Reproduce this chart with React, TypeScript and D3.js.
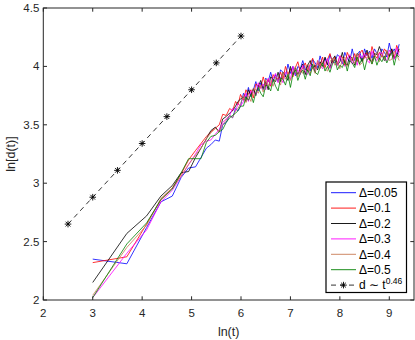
import React, { useEffect, useRef } from 'react';
import * as d3 from 'd3';

// ln(t) sample positions
const lnT = [
  3.0, 3.69, 4.09, 4.38, 4.61, 4.79, 4.94, 5.08, 5.19, 5.3, 5.39, 5.48, 5.56, 5.63, 5.7, 5.77, 5.83, 5.89, 5.94, 5.99,
  6.05, 6.1, 6.15, 6.2, 6.25, 6.3, 6.35, 6.4, 6.45, 6.5, 6.55, 6.6, 6.65, 6.7, 6.75, 6.8,
  6.85, 6.9, 6.95, 7.0, 7.05, 7.1, 7.15, 7.2, 7.25, 7.3, 7.35, 7.4, 7.45, 7.5, 7.55, 7.6,
  7.65, 7.7, 7.75, 7.8, 7.85, 7.9, 7.95, 8.0, 8.05, 8.1, 8.15, 8.2, 8.25, 8.3, 8.35, 8.4,
  8.45, 8.5, 8.55, 8.6, 8.65, 8.7, 8.75, 8.8, 8.85, 8.9, 8.95, 9.0, 9.05, 9.1, 9.15, 9.2,
];

const d005 = [
  2.35, 2.31, 2.62, 2.84, 2.89, 3.05, 3.13, 3.14, 3.22, 3.3, 3.33, 3.37, 3.36, 3.5, 3.52, 3.58, 3.56, 3.64, 3.62, 3.66,
  3.77, 3.73, 3.82, 3.74, 3.8, 3.87, 3.79, 3.86, 3.8, 3.9, 3.87, 3.95, 3.87, 3.93, 3.87, 3.97,
  3.95, 3.91, 4.02, 3.94, 4.0, 3.92, 4.0, 3.98, 4.05, 3.97, 4.01, 3.96, 4.06, 4.03, 3.99, 4.09,
  4.02, 4.07, 4.01, 4.1, 4.04, 4.03, 4.1, 4.08, 4.02, 4.12, 4.07, 4.04, 4.15, 4.05, 4.1, 4.13,
  4.05, 4.15, 4.09, 4.13, 4.07, 4.15, 4.11, 4.06, 4.15, 4.12, 4.08, 4.2, 4.11, 4.15, 4.1, 4.19,
];
const d01 = [
  2.32, 2.37, 2.65, 2.86, 2.96, 3.08, 3.2, 3.28, 3.34, 3.4, 3.44, 3.47, 3.5, 3.59, 3.58, 3.64, 3.62, 3.7, 3.67, 3.76,
  3.71, 3.8, 3.76, 3.8, 3.73, 3.85, 3.83, 3.82, 3.91, 3.83, 3.89, 3.83, 3.93, 3.9, 3.89, 3.95,
  3.89, 4.0, 3.93, 3.98, 3.91, 3.99, 4.04, 3.95, 3.99, 4.03, 3.96, 4.02, 4.07, 3.98, 4.03, 4.0,
  4.08, 3.99, 4.06, 4.11, 4.03, 4.08, 4.02, 4.09, 4.08, 4.01, 4.12, 4.07, 4.05, 4.11, 4.04, 4.11,
  4.14, 4.07, 4.12, 4.05, 4.17, 4.1, 4.07, 4.12, 4.08, 4.15, 4.12, 4.08, 4.15, 4.07, 4.18, 4.12,
];
const d02 = [
  2.15, 2.57, 2.72, 2.89, 2.98, 3.09, 3.1, 3.22, 3.3, 3.38, 3.45, 3.48, 3.44, 3.55, 3.57, 3.6, 3.62, 3.66, 3.7, 3.72,
  3.74, 3.7, 3.8, 3.75, 3.81, 3.75, 3.83, 3.88, 3.81, 3.87, 3.8, 3.91, 3.89, 3.87, 3.95, 3.87,
  3.95, 3.92, 3.88, 4.0, 3.93, 3.99, 3.93, 3.98, 4.02, 3.93, 4.01, 4.05, 3.98, 4.01, 3.97, 4.04,
  4.0, 4.08, 4.02, 3.99, 4.06, 4.09, 4.01, 4.04, 4.12, 4.03, 4.01, 4.09, 4.07, 4.01, 4.11, 4.09,
  4.04, 4.09, 4.14, 4.06, 4.04, 4.11, 4.1, 4.17, 4.11, 4.05, 4.13, 4.09, 4.15, 4.07, 4.09, 4.15,
];
const d03 = [
  2.02, 2.4, 2.6, 2.84, 2.94, 3.06, 3.16, 3.25, 3.33, 3.36, 3.37, 3.42, 3.46, 3.52, 3.55, 3.58, 3.64, 3.62, 3.68, 3.66,
  3.7, 3.77, 3.7, 3.79, 3.78, 3.76, 3.86, 3.81, 3.85, 3.8, 3.9, 3.84, 3.9, 3.94, 3.86, 3.91,
  3.86, 3.95, 3.93, 3.89, 4.0, 3.93, 3.97, 3.93, 4.01, 3.96, 3.93, 4.01, 4.01, 3.95, 4.05, 4.01,
  3.98, 4.03, 4.07, 3.98, 4.03, 4.06, 4.01, 4.09, 4.03, 4.0, 4.07, 4.1, 4.02, 4.07, 4.01, 4.1,
  4.07, 4.11, 4.05, 4.03, 4.13, 4.07, 4.05, 4.11, 4.12, 4.06, 4.05, 4.14, 4.1, 4.06, 4.16, 4.09,
];
const d04 = [
  2.04, 2.45, 2.64, 2.87, 2.96, 3.06, 3.16, 3.24, 3.3, 3.38, 3.43, 3.47, 3.44, 3.5, 3.54, 3.58, 3.56, 3.62, 3.64, 3.68,
  3.75, 3.69, 3.75, 3.7, 3.81, 3.8, 3.77, 3.84, 3.78, 3.89, 3.83, 3.87, 3.83, 3.91, 3.89, 3.84,
  3.95, 3.89, 3.94, 3.88, 3.94, 4.0, 3.91, 3.97, 3.94, 3.99, 4.02, 3.94, 3.99, 3.94, 4.05, 3.98,
  4.04, 3.98, 3.96, 4.04, 4.07, 4.01, 4.04, 3.98, 4.06, 4.08, 4.0, 4.03, 4.08, 4.02, 4.11, 4.01,
  4.03, 4.08, 4.07, 4.12, 4.02, 4.08, 4.12, 4.04, 4.1, 4.06, 4.14, 4.05, 4.06, 4.13, 4.1, 4.05,
];
const d05 = [
  2.02, 2.48, 2.66, 2.86, 2.95, 3.09, 3.21, 3.21, 3.21, 3.35, 3.4, 3.41, 3.44, 3.46, 3.52, 3.56, 3.58, 3.6, 3.62, 3.66,
  3.66, 3.74, 3.71, 3.76, 3.69, 3.78, 3.82, 3.77, 3.74, 3.84, 3.83, 3.79, 3.89, 3.83, 3.79, 3.9,
  3.89, 3.84, 3.93, 3.82, 3.93, 3.97, 3.88, 3.94, 3.97, 3.89, 3.97, 3.92, 4.02, 3.95, 3.93, 3.99,
  4.03, 3.96, 4.0, 3.95, 4.02, 4.06, 3.97, 4.01, 3.99, 4.05, 3.96, 4.05, 4.03, 3.99, 4.08, 4.02,
  4.07, 3.97, 4.06, 4.07, 4.02, 4.09, 4.01, 4.07, 4.04, 4.09, 4.03, 4.08, 4.12, 4.01, 4.1, 4.08,
];

const seriesLabels = ['Δ=0.05', 'Δ=0.1', 'Δ=0.2', 'Δ=0.3', 'Δ=0.4', 'Δ=0.5'];
const seriesValues = [d005, d01, d02, d03, d04, d05];
const seriesColors = ['#0000ff', '#ff0000', '#000000', '#ff00ff', '#c97a55', '#008000'];

// reference power law d ~ t^0.46
const fitX = [2.5, 3.0, 3.5, 4.0, 4.5, 5.0, 5.5, 6.0];
const fitY = [2.65, 2.88, 3.11, 3.34, 3.57, 3.8, 4.03, 4.26];

const xTicks = [2, 3, 4, 5, 6, 7, 8, 9];
const yTicks = [2, 2.5, 3, 3.5, 4, 4.5];

const App = () => {
  const ref = useRef<SVGSVGElement>(null);

  useEffect(() => {
    const width = 415;
    const height = 340;
    const m = { left: 43.3, right: 1, top: 8, bottom: 40 };
    const font = 'Liberation Sans, Arial, sans-serif';
    const axisColor = '#262626';

    const svg = d3.select(ref.current);
    svg.selectAll('*').remove();
    svg.attr('width', width).attr('height', height);

    const x = d3.scaleLinear().domain([2, 9.5]).range([m.left, width - m.right]);
    const y = d3.scaleLinear().domain([2, 4.5]).range([height - m.bottom, m.top]);

    svg.append('rect').attr('width', width).attr('height', height).attr('fill', 'white');

    const line = d3
      .line<number>()
      .x((d, i) => x(lnT[i]))
      .y((d) => y(d));

    seriesValues.forEach((vals, k) => {
      svg
        .append('path')
        .attr('d', line(vals))
        .attr('fill', 'none')
        .attr('stroke', seriesColors[k])
        .attr('stroke-width', 0.8);
    });

    // fitted power law
    const fitLine = d3
      .line<number>()
      .x((d, i) => x(fitX[i]))
      .y((d) => y(d));
    svg
      .append('path')
      .attr('d', fitLine(fitY))
      .attr('fill', 'none')
      .attr('stroke', '#000')
      .attr('stroke-width', 0.8)
      .attr('stroke-dasharray', '5,4');

    const star = (g: any, cx: number, cy: number, r: number) => {
      const arms = [
        [0, r],
        [r, 0],
        [r * 0.72, r * 0.72],
        [r * 0.72, -r * 0.72],
      ];
      arms.forEach(([dx, dy]) => {
        g.append('line')
          .attr('x1', cx - dx)
          .attr('y1', cy - dy)
          .attr('x2', cx + dx)
          .attr('y2', cy + dy)
          .attr('stroke', '#000')
          .attr('stroke-width', 0.9);
      });
    };
    fitY.forEach((v, i) => star(svg, x(fitX[i]), y(v), 3.3));

    // axes box
    const [x0, x1] = x.range();
    const [y0, y1] = y.range();
    svg
      .append('rect')
      .attr('x', x0)
      .attr('y', y1)
      .attr('width', x1 - x0)
      .attr('height', y0 - y1)
      .attr('fill', 'none')
      .attr('stroke', axisColor)
      .attr('stroke-width', 1);

    const tl = 3.7;
    xTicks.forEach((t) => {
      svg.append('line').attr('x1', x(t)).attr('x2', x(t)).attr('y1', y0).attr('y2', y0 - tl).attr('stroke', axisColor);
      svg.append('line').attr('x1', x(t)).attr('x2', x(t)).attr('y1', y1).attr('y2', y1 + tl).attr('stroke', axisColor);
      svg
        .append('text')
        .attr('x', x(t))
        .attr('y', y0 + 17)
        .attr('text-anchor', 'middle')
        .attr('font-family', font)
        .attr('font-size', 11.5)
        .attr('fill', axisColor)
        .text(t);
    });
    yTicks.forEach((t) => {
      svg.append('line').attr('x1', x0).attr('x2', x0 + tl).attr('y1', y(t)).attr('y2', y(t)).attr('stroke', axisColor);
      svg.append('line').attr('x1', x1).attr('x2', x1 - tl).attr('y1', y(t)).attr('y2', y(t)).attr('stroke', axisColor);
      svg
        .append('text')
        .attr('x', x0 - 4)
        .attr('y', y(t) + 4)
        .attr('text-anchor', 'end')
        .attr('font-family', font)
        .attr('font-size', 11.5)
        .attr('fill', axisColor)
        .text(t);
    });

    svg
      .append('text')
      .attr('x', (x0 + x1) / 2)
      .attr('y', y0 + 36)
      .attr('text-anchor', 'middle')
      .attr('font-family', font)
      .attr('font-size', 12.5)
      .attr('fill', axisColor)
      .text('ln(t)');
    svg
      .append('text')
      .attr('transform', `translate(15,${(y0 + y1) / 2}) rotate(-90)`)
      .attr('text-anchor', 'middle')
      .attr('font-family', font)
      .attr('font-size', 12.5)
      .attr('fill', axisColor)
      .text('ln[d(t)]');

    // legend
    const lg = svg.append('g');
    lg.append('rect')
      .attr('x', 326)
      .attr('y', 182)
      .attr('width', 80.5)
      .attr('height', 110.5)
      .attr('fill', 'white')
      .attr('stroke', '#000')
      .attr('stroke-width', 1.2);
    const rowY = (i: number) => 192.7 + i * 15.4;
    seriesLabels.forEach((lab, i) => {
      lg.append('line')
        .attr('x1', 331)
        .attr('x2', 356)
        .attr('y1', rowY(i))
        .attr('y2', rowY(i))
        .attr('stroke', seriesColors[i])
        .attr('stroke-width', 0.9);
      lg.append('text')
        .attr('x', 359)
        .attr('y', rowY(i) + 4.3)
        .attr('font-family', font)
        .attr('font-size', 12)
        .attr('fill', '#000')
        .text(lab);
    });
    const ly = rowY(6);
    lg.append('line')
      .attr('x1', 331)
      .attr('x2', 356)
      .attr('y1', ly)
      .attr('y2', ly)
      .attr('stroke', '#000')
      .attr('stroke-width', 0.8)
      .attr('stroke-dasharray', '5,4');
    star(lg, 343.5, ly, 3.3);
    const lt = lg
      .append('text')
      .attr('x', 359)
      .attr('y', ly + 4.3)
      .attr('font-family', font)
      .attr('font-size', 12)
      .attr('fill', '#000');
    lt.append('tspan').text('d ∼ t');
    lt.append('tspan').attr('font-size', 8.5).attr('dy', -5).text('0.46');
  }, []);

  return <svg ref={ref} style={{ position: 'absolute', left: 0, top: 0 }} />;
};

export default App;
